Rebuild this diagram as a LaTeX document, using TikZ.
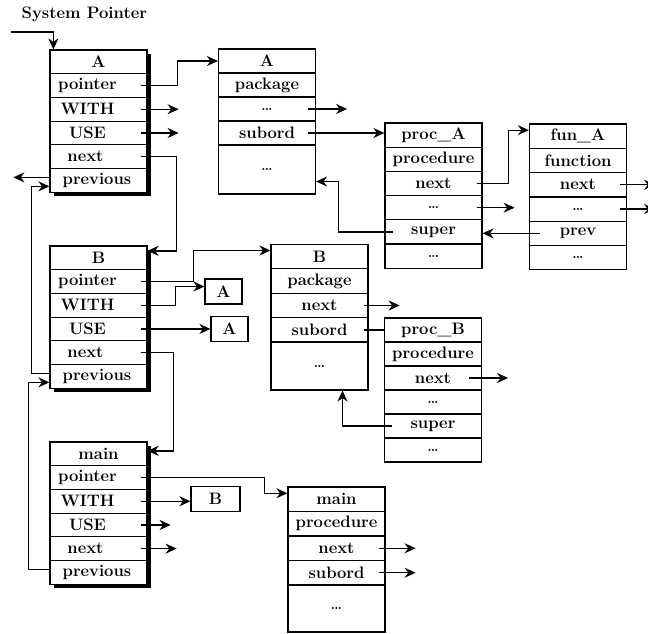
\documentclass[tikz,border=0pt]{standalone}
\usepackage{tikz}
\usetikzlibrary{positioning, arrows.meta, shadows}
\newcommand{\cellfont}{\fontsize{16.6}{19}\selectfont\bfseries}
\newcommand{\dd}{{\fontsize{14}{15}\selectfont\dots}}

\begin{document}
\begin{tikzpicture}[x=1pt, y=-1pt, >={Stealth[length=11pt, width=10pt]}, line width=1.3pt,
    cell/.style={draw, line width=1.2pt, fill=white, minimum width=97pt, minimum height=#1, inner sep=0pt, font=\cellfont},
    cell/.default=24pt,
    listcell/.style={cell=23.7pt, drop shadow={shadow xshift=4pt, shadow yshift=-4pt, fill=black, opacity=1}},
    smallbox/.style={draw, line width=1.2pt, minimum height=25pt, inner sep=0pt, font=\cellfont}]
    \path[use as bounding box, clip] (0,0) rectangle (648,634);

    % list of units
    \foreach \t/\s [count=\i] in {A/0, pointer/22, WITH/22, USE/22, next/26, previous/3}
        \node[listcell] (listA\i) at (98.5, {38.15+23.7*\i}) {\t\hspace*{\s pt}};
    \foreach \t/\s [count=\i] in {B/0, pointer/22, WITH/22, USE/22, next/26, previous/3}
        \node[listcell] (listB\i) at (98.5, {234.15+23.7*\i}) {\t\hspace*{\s pt}};
    \foreach \t/\s [count=\i] in {main/0, pointer/22, WITH/22, USE/22, next/26, previous/3}
        \node[listcell] (listM\i) at (98.5, {430.15+23.7*\i}) {\t\hspace*{\s pt}};

    % packages
    \foreach \t [count=\i] in {A, package, \dd, subord}
        \node[cell] (pkgA\i) at (267, {37+24*\i}) {\t};
    \node[cell=49pt] (pkgA5) at (267, 169.5) {\dd};
    \foreach \t [count=\i] in {B, package, next, subord}
        \node[cell=24.5pt] (pkgB\i) at (319.5, {232+24.5*\i}) {\t};
    \node[cell=48pt] (pkgB5) at (319.5, 366) {\dd};

    % subprograms
    \foreach \t [count=\i] in {proc\_A, procedure, next, \dd, super, \dd}
        \node[cell=24.2pt] (procA\i) at (433.5, {110.9+24.2*\i}) {\t};
    \foreach \t [count=\i] in {fun\_A, function, next, \dd, prev, \dd}
        \node[cell=24.3pt] (funA\i) at (578, {111.85+24.3*\i}) {\t};
    \foreach \t [count=\i] in {proc\_B, procedure, next, \dd, super, \dd}
        \node[cell] (procB\i) at (433, {306+24*\i}) {\t};
    \foreach \t [count=\i] in {main, procedure, next, subord}
        \node[cell=24.5pt] (procM\i) at (336.5, {474.75+24.5*\i}) {\t};
    \node[cell=47pt] (procM5) at (336.5, 608.5) {\dd};

    % WITH / USE entries
    \node[smallbox, minimum width=37pt] (boxA1) at (223.5, 291.5) {A};
    \node[smallbox, minimum width=37pt] (boxA2) at (229.5, 329) {A};
    \node[smallbox, minimum width=49pt] (boxB) at (215.5, 499) {B};

    \node[font=\cellfont, anchor=west, inner sep=0pt] (sysptr) at (21,14) {System Pointer};
    \coordinate (sysin) at (11,32);
    \draw[->] (sysin) -| ([xshift=4pt]listA1.north west);

    % unit A
    \draw[->] ([xshift=-7pt]listA2.east) -- ++(37,0) |- (pkgA1.west);
    \draw[->] ([xshift=-7pt]listA3.east) -- ++(38,0);
    \draw[->] ([xshift=-7pt]listA4.east) -- ++(38,0);
    \draw[->] ([xshift=-7pt]listA5.east) -- ++(36,0) |- ([yshift=7pt]listB1.east);
    \draw[->] ([yshift=3pt]listA6.west) -- ++(-36,0);

    % unit B
    \draw[->] ([yshift=3pt]listB6.west) -- ++(-18,0) |- ([yshift=-6pt]listA6.west);
    \draw[->] ([xshift=-7pt]listB2.east) -- ++(53,0) |- ([yshift=6pt]pkgB1.west);
    \draw[->] ([xshift=-7pt]listB3.east) -- ++(35,0) |- ([yshift=5pt]boxA1.west);
    \draw[->] ([xshift=-7pt]listB4.east) -- (listB4.east -| boxA2.west);
    \draw[->] ([xshift=-7pt]listB5.east) -- ++(33,0) |- ([yshift=3pt]listM1.east);

    % unit main
    \draw[->] ([yshift=3pt]listM6.west) -- ++(-21,0) |- ([yshift=-6pt]listB6.west);
    \draw[->] ([xshift=-7pt]listM2.east) -- ++(124,0) |- ([yshift=6pt]procM1.west);
    \draw[->] ([xshift=-7pt]listM3.east) -- (listM3.east -| boxB.west);
    \draw[->] ([xshift=-7pt]listM4.east) -- ++(30,0);
    \draw[->] ([xshift=-7pt]listM5.east) -- ++(36,0);

    % package A and its subprograms
    \draw[->] ([xshift=-8pt]pkgA3.east) -- ++(39,0);
    \draw[->] ([xshift=-8pt]pkgA4.east) -- (pkgA4.east -| procA1.west);
    \draw[->] ([xshift=-6pt]procA3.east) -- ++(32,0) |- ([yshift=6pt]funA1.west);
    \draw[->] ([xshift=-6pt]procA4.east) -- ++(38,0);
    \draw[->] ([xshift=9pt]procA5.west) -- ++(-55,0) |- ([yshift=-12pt]pkgA5.east);
    \draw[->] ([xshift=11pt]funA5.west) -- (funA5.west -| procA5.east);
    \draw[->] ([xshift=-7pt]funA3.east) -- ++(35,0);
    \draw[->] ([xshift=-7pt]funA4.east) -- ++(35,0);

    % package B
    \draw[->] ([xshift=-5pt]pkgB3.east) -- ++(36,0);
    \draw ([xshift=-5pt]pkgB4.east) -- (pkgB4.east -| procB1.west);
    \draw[->] ([xshift=-13pt]procB3.east) -- ++(39,0);
    \draw[->] ([xshift=8pt]procB5.west) -| ([xshift=23pt]pkgB5.south);

    % main procedure
    \draw[->] ([xshift=-7pt]procM3.east) -- ++(37,0);
    \draw[->] ([xshift=-7pt]procM4.east) -- ++(37,0);
\end{tikzpicture}
\end{document}
